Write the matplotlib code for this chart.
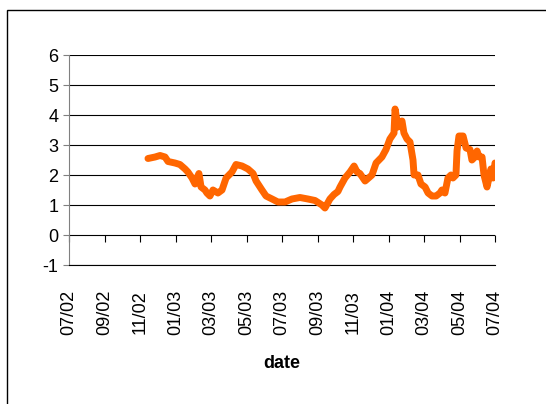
import matplotlib
matplotlib.use("Agg")
import matplotlib.pyplot as plt
from matplotlib.patches import Rectangle

plt.rcParams["font.family"] = ["Liberation Sans", "DejaVu Sans"]
plt.rcParams["axes.unicode_minus"] = False

# months since 07/02
months = [4.45, 4.85, 5.13, 5.41, 5.58, 5.97, 6.25, 6.54, 6.70, 6.93, 7.10, 7.21, 7.32,
          7.44, 7.66, 7.77, 7.94, 8.11, 8.39, 8.62, 8.85, 9.18, 9.41, 9.75, 10.08, 10.37,
          10.54, 10.87, 11.10, 11.44, 11.77, 12.17, 12.56, 13.01, 13.46, 13.86, 14.25,
          14.42, 14.70, 14.93, 15.15, 15.27, 15.55, 15.83, 16.06, 16.23, 16.39, 16.68,
          17.07, 17.30, 17.63, 17.86, 18.08, 18.31, 18.37, 18.54, 18.76, 18.87, 19.04,
          19.21, 19.38, 19.44, 19.66, 19.83, 20.06, 20.23, 20.45, 20.68, 20.90, 21.01,
          21.18, 21.35, 21.52, 21.63, 21.80, 21.86, 21.97, 22.20, 22.37, 22.59, 22.70,
          22.87, 22.99, 23.10, 23.27, 23.38, 23.55, 23.77, 23.89, 24.0]
values = [2.55, 2.6, 2.65, 2.6, 2.45, 2.4, 2.35, 2.2, 2.1, 1.9, 1.7, 1.9, 2.05,
          1.6, 1.5, 1.4, 1.3, 1.5, 1.4, 1.5, 1.9, 2.1, 2.35, 2.3, 2.2, 2.05,
          1.8, 1.5, 1.3, 1.2, 1.1, 1.1, 1.2, 1.25, 1.2, 1.15, 1.0,
          0.9, 1.2, 1.35, 1.45, 1.6, 1.9, 2.1, 2.3, 2.1, 2.05, 1.8,
          2.0, 2.4, 2.6, 2.85, 3.2, 3.4, 4.2, 3.6, 3.8, 3.4, 3.2,
          3.1, 2.5, 2.0, 2.0, 1.7, 1.6, 1.4, 1.3, 1.3, 1.4, 1.5,
          1.4, 1.9, 2.0, 1.9, 2.0, 2.8, 3.3, 3.3, 2.9, 2.85, 2.5,
          2.6, 2.8, 2.6, 2.6, 2.0, 1.6, 2.2, 1.9, 2.4]
tick_pos = list(range(0, 25, 2))
tick_labels = ["07/02", "09/02", "11/02", "01/03", "03/03", "05/03", "07/03",
               "09/03", "11/03", "01/04", "03/04", "05/04", "07/04"]

fig = plt.figure(figsize=(5.46, 4.04), dpi=100)
fig.patches.append(Rectangle((7 / 546, -0.1), 1.2, 1 - 10 / 404 + 0.1,
                             transform=fig.transFigure, fill=False,
                             edgecolor="black", linewidth=1))
ax = fig.add_axes([69 / 546, 1 - 265 / 404, 426 / 546, 210 / 404])

ax.plot(months, values, color="#FF6600", linewidth=5, solid_capstyle="round",
        solid_joinstyle="round")
ax.set_xlim(0, 24)
ax.set_ylim(-1, 6)
ax.set_yticks(range(-1, 7))
ax.yaxis.grid(True, color="black", linewidth=0.8)
ax.set_axisbelow(True)
for s in ["top", "right"]:
    ax.spines[s].set_visible(False)
ax.spines["left"].set_color("#808080")
ax.spines["bottom"].set_color("black")
ax.tick_params(axis="y", labelsize=13, length=4, color="#808080")
ax.set_xticks(tick_pos)
ax.set_xticklabels(tick_labels, rotation=90, fontsize=13)
ax.tick_params(axis="x", length=0, pad=18)

sec = ax.secondary_xaxis(1 / 7)
sec.set_xticks(tick_pos)
sec.tick_params(axis="x", direction="out", length=5, labelbottom=False, color="black")
sec.spines["bottom"].set_visible(False)

ax.set_xlabel("date", fontsize=13, fontweight="bold", labelpad=14)

fig.savefig("out.png", dpi=100)
